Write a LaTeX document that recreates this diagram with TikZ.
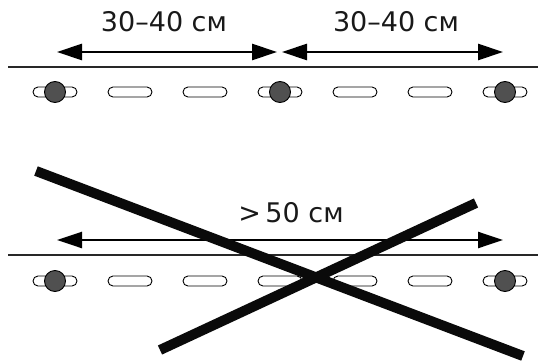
\documentclass[tikz,border=0pt]{standalone}
\usepackage{fontspec}
\setmainfont{DejaVu Sans}
\usetikzlibrary{arrows.meta,shapes.misc}
\begin{document}
\begin{tikzpicture}[x=1pt,y=-1pt,
  capsule/.style={draw=black,line width=0.9pt,fill=white,rounded rectangle,minimum width=44pt,minimum height=10pt,inner sep=0pt},
  pin/.style={draw=black,line width=0.9pt,fill={rgb,255:red,80;green,80;blue,80},circle,minimum size=21pt,inner sep=0pt},
  rail/.style={line width=1.6pt,draw={rgb,255:red,40;green,40;blue,40}},
  dim/.style={line width=2.8pt,{Triangle[length=25pt,width=16pt]}-{Triangle[length=25pt,width=16pt]}},
  lbl/.style={font=\fontsize{27}{32}\selectfont,inner sep=0pt,text={rgb,255:red,25;green,25;blue,25}},
  crossbar/.style={line width=10pt,draw={rgb,255:red,10;green,10;blue,10}}]
\useasboundingbox (0,0) rectangle (538,364);
% top
\coordinate (tl0) at (8,67);
\coordinate (tl1) at (538,67);
\draw[rail] (tl0) -- (tl1);
\foreach \i/\x in {1/55,2/130,3/205,4/280,5/355,6/430,7/505}{
  \node[capsule] (tc\i) at (\x,92) {};
}
\node[pin] (tp1) at (tc1) {};
\node[pin] (tp4) at (tc4) {};
\node[pin] (tp7) at (tc7) {};
\coordinate (ta0) at (57,52);
\coordinate (ta1) at (277,52);
\coordinate (ta2) at (282,52);
\coordinate (ta3) at (503,52);
\draw[dim] (ta0) -- (ta1);
\draw[dim] (ta2) -- (ta3);
\node[lbl] (t1) at (164,22) {30–40 см};
\node[lbl] (t2) at (396,22) {30–40 см};
% bottom
\coordinate (bl0) at (8,255);
\coordinate (bl1) at (538,255);
\draw[rail] (bl0) -- (bl1);
\foreach \i/\x in {1/55,2/130,3/205,4/280,5/355,6/430,7/505}{
  \node[capsule] (bc\i) at (\x,281) {};
}
\node[pin] (bp1) at (bc1) {};
\node[pin] (bp7) at (bc7) {};
\coordinate (ba0) at (57,240);
\coordinate (ba1) at (503,240);
\draw[dim,line width=2.4pt] (ba0) -- (ba1);
\node[lbl] (b1) at (291,213) {>\,50 см};
% cross
\coordinate (x1a) at (36,171);
\coordinate (x1b) at (523,356);
\coordinate (x2a) at (160,350);
\coordinate (x2b) at (476,203);
\draw[crossbar] (x1a) -- (x1b);
\draw[crossbar] (x2a) -- (x2b);
\end{tikzpicture}
\end{document}
